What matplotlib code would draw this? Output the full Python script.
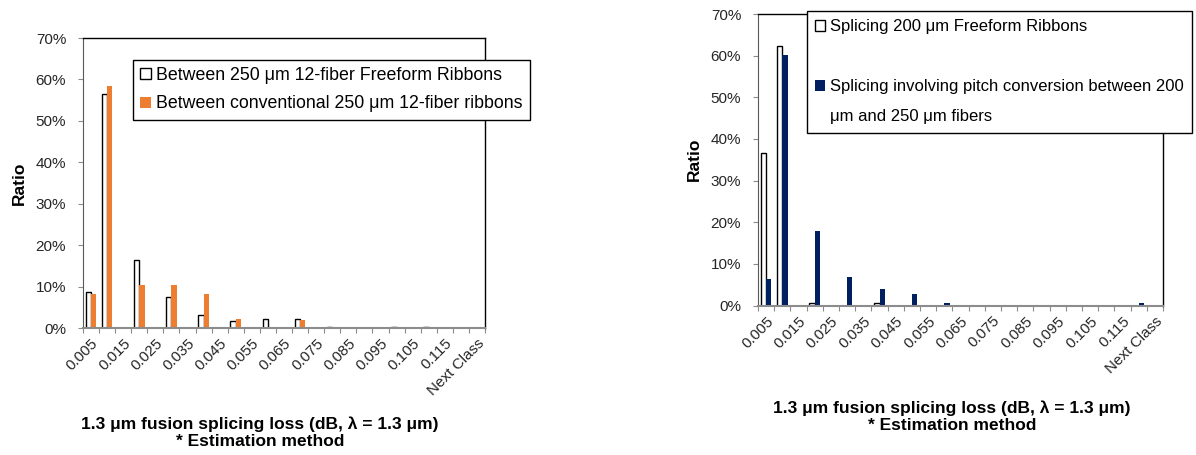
import matplotlib
matplotlib.use("Agg")
import numpy as np
from matplotlib import pyplot as plt
from matplotlib.patches import Patch
from matplotlib.ticker import PercentFormatter, FixedLocator
from matplotlib.transforms import ScaledTranslation

plt.rcParams['font.family'] = ['Liberation Sans', 'DejaVu Sans']

# histogram bins (dB); a label is shown on every other bin
bins = ["0.005", "0.010", "0.015", "0.020", "0.025", "0.030", "0.035", "0.040",
        "0.045", "0.050", "0.055", "0.060", "0.065", "0.070", "0.075", "0.080",
        "0.085", "0.090", "0.095", "0.100", "0.105", "0.110", "0.115", "0.120",
        "Next Class"]
shown_bins = ["0.005", "0.015", "0.025", "0.035", "0.045", "0.055", "0.065",
              "0.075", "0.085", "0.095", "0.105", "0.115", "Next Class"]

# left panel, ratio in %
freeform_250 = [8.7, 56.6, 0, 16.5, 0, 7.4, 0, 3.1, 0, 1.8, 0, 2.2, 0, 2.2, 0,
                0.3, 0, 0, 0, 0.3, 0, 0.3, 0, 0, 0]
conventional_250 = [8.2, 58.3, 0, 10.4, 0, 10.4, 0, 8.2, 0, 2.1, 0, 0, 0, 2.0, 0,
                    0, 0, 0, 0, 0, 0, 0, 0, 0, 0]
left_labels = ["Between 250 μm 12-fiber Freeform Ribbons",
               "Between conventional 250 μm 12-fiber ribbons"]

# right panel, ratio in %
freeform_200 = [36.7, 62.2, 0, 0.5, 0, 0, 0, 0.5, 0, 0, 0, 0, 0, 0, 0,
                0, 0, 0, 0, 0, 0, 0, 0, 0, 0]
pitch_conversion = [6.3, 60.2, 0, 18.0, 0, 6.9, 0, 4.0, 0, 2.7, 0, 0.6, 0, 0, 0,
                    0, 0, 0, 0, 0, 0, 0, 0, 0.6, 0]
right_labels = ["Splicing 200 μm Freeform Ribbons", "",
                "Splicing involving pitch conversion between 200",
                "μm and 250 μm fibers"]

xlabel = "1.3 μm fusion splicing loss (dB, λ = 1.3 μm)\n* Estimation method"
ORANGE = "#ED7D31"
NAVY = "#002060"
W = 0.33


def draw_panel(fig, ax, white_vals, color_vals, color):
    x = np.arange(len(bins))
    w = np.array(white_vals) / 100
    c = np.array(color_vals) / 100
    m = w > 0
    ax.bar(x[m] - W / 2, w[m], W, color="white", edgecolor="black", linewidth=1.0)
    m = c > 0
    ax.bar(x[m] + W / 2, c[m], W, color=color, linewidth=0)

    ax.set_xlim(-0.5, len(bins) - 0.5)
    ax.set_ylim(0, 0.7)
    ax.set_yticks(np.arange(0, 0.71, 0.1))
    ax.yaxis.set_major_formatter(PercentFormatter(1.0, decimals=0))

    # tick marks on bin edges, labels on bin centres
    ax.xaxis.set_major_locator(FixedLocator(np.arange(len(bins) + 1) - 0.5))
    ax.set_xticklabels([])
    pos = [bins.index(b) for b in shown_bins]
    ax.xaxis.set_minor_locator(FixedLocator(pos))
    ax.set_xticklabels(shown_bins, minor=True, rotation=45, ha="right",
                       va="top", rotation_mode="anchor", fontsize=11,
                       color="#262626")
    shift = ScaledTranslation(-3 / 100, -3 / 100, fig.dpi_scale_trans)
    for lab in ax.get_xticklabels(minor=True):
        lab.set_transform(lab.get_transform() + shift)
    ax.tick_params(axis="x", which="minor", length=0, pad=6)
    ax.tick_params(axis="x", which="major", length=3.6, color="#8c8c8c",
                   direction="out")
    ax.tick_params(axis="y", length=3.6, color="#8c8c8c", pad=8.5,
                   labelsize=11, labelcolor="#262626")

    for s in ("top", "right"):
        ax.spines[s].set_color("black")
        ax.spines[s].set_linewidth(1.0)
    ax.spines["left"].set_color("#595959")
    ax.spines["bottom"].set_color("#8c8c8c")
    ax.spines["bottom"].set_linewidth(1.5)

    ax.set_ylabel("Ratio", fontsize=12.5, fontweight="bold", labelpad=6)
    ax.set_xlabel(xlabel, fontsize=12.5, fontweight="bold", ma="center")


def main():
    fig = plt.figure(figsize=(11.96, 4.55), dpi=100)
    leg_kw = dict(loc="upper left", borderaxespad=0, frameon=True,
                  fancybox=False, edgecolor="black", framealpha=1,
                  handlelength=0.6, handleheight=0.6)

    ax1 = fig.add_axes([83 / 1196, 1 - 328 / 455, 402 / 1196, 290 / 455])
    draw_panel(fig, ax1, freeform_250, conventional_250, ORANGE)
    ax1.xaxis.set_label_coords(0.44, -0.305)
    h1 = [Patch(facecolor="white", edgecolor="black", linewidth=1.0),
          Patch(facecolor=ORANGE)]
    fig.legend(h1, left_labels, bbox_to_anchor=(133 / 1196, 1 - 60 / 455),
               fontsize=12.8, labelspacing=0.64, handletextpad=0.3,
               borderpad=0.4, **leg_kw)

    ax2 = fig.add_axes([758 / 1196, 1 - 305.5 / 455, 405 / 1196, 291.5 / 455])
    draw_panel(fig, ax2, freeform_200, pitch_conversion, NAVY)
    ax2.xaxis.set_label_coords(0.479, -0.325)
    blank = Patch(facecolor="none", edgecolor="none")
    h2 = [Patch(facecolor="white", edgecolor="black", linewidth=1.0), blank,
          Patch(facecolor=NAVY), blank]
    fig.legend(h2, right_labels, bbox_to_anchor=(807 / 1196, 1 - 11 / 455),
               fontsize=12, labelspacing=0.9, handletextpad=0.25,
               borderpad=0.5, **leg_kw)

    fig.savefig("out.png", dpi=100)


if __name__ == "__main__":
    main()
